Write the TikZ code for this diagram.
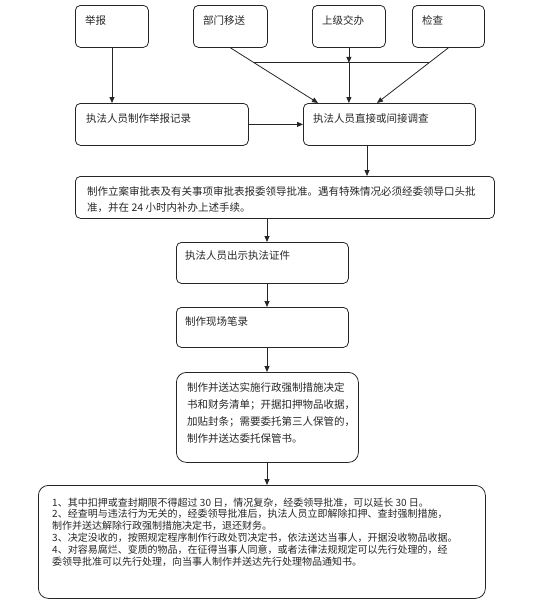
\documentclass[tikz,border=0pt]{standalone}
\usepackage{fontspec}
\newfontfamily\cjk{Noto Sans CJK SC}
\usetikzlibrary{arrows.meta,calc}
\begin{document}
\begin{tikzpicture}[x=1pt,y=-1pt,
  box/.style={draw=black!85, line width=0.8pt, rounded corners=5pt, anchor=north west, inner sep=0pt},
  bigbox/.style={box, rounded corners=10pt},
  txt/.style={anchor=base west, inner sep=0pt, align=left, font=\cjk\fontsize{10.5}{16}\selectfont, text=black!85},
  arr/.style={draw=black!85, line width=0.8pt, -{Triangle[length=6pt,width=5pt]}},
  ln/.style={draw=black!85, line width=0.8pt}]
\useasboundingbox (0,0) rectangle (552,603);

% top row
\node[box, minimum width=73pt, minimum height=42pt] (jb) at (75,5) {};
\node[txt] (tjb) at (85,24) {举报};
\node[box, minimum width=74pt, minimum height=42pt] (bm) at (193,5) {};
\node[txt] (tbm) at (203,24) {部门移送};
\node[box, minimum width=73pt, minimum height=42pt] (sj) at (312,5) {};
\node[txt] (tsj) at (322,24) {上级交办};
\node[box, minimum width=72pt, minimum height=42pt] (jc) at (412,5) {};
\node[txt] (tjc) at (422,24) {检查};

% second row
\node[box, minimum width=173pt, minimum height=42pt] (jl) at (75,103) {};
\node[txt] (tjl) at (86,122) {执法人员制作举报记录};
\node[box, minimum width=172pt, minimum height=42pt] (dc) at (303,103) {};
\node[txt] (tdc) at (313,122) {执法人员直接或间接调查};

% third
\node[box, minimum width=419pt, minimum height=42pt] (la) at (75,176) {};
\node[txt] (tla) at (87,211) {制作立案审批表及有关事项审批表报委领导批准。遇有特殊情况必须经委领导口头批\\准，并在 24 小时内补办上述手续。};

\node[box, minimum width=172pt, minimum height=41pt] (cs) at (176,242) {};
\node[txt] (tcs) at (185,259) {执法人员出示执法证件};

\node[box, minimum width=172pt, minimum height=40pt] (bl) at (176,307) {};
\node[txt] (tbl) at (185,325) {制作现场笔录};

\node[bigbox, minimum width=182pt, minimum height=90pt] (qz) at (176,372) {};
\node[txt, font=\cjk\fontsize{10.5}{17}\selectfont] (tqz) at (187,442) {制作并送达实施行政强制措施决定\\书和财务清单；开据扣押物品收据，\\加贴封条；需要委托第三人保管的，\\制作并送达委托保管书。};

\node[bigbox, minimum width=447pt, minimum height=113pt] (sm) at (38,485) {};
\node[txt, font=\cjk\fontsize{10}{11.9}\selectfont] (tsm) at (52,565.5) {1、其中扣押或查封期限不得超过 30 日，情况复杂，经委领导批准，可以延长 30 日。\\2、经查明与违法行为无关的，经委领导批准后，执法人员立即解除扣押、查封强制措施，\\制作并送达解除行政强制措施决定书，退还财务。\\3、决定没收的，按照规定程序制作行政处罚决定书，依法送达当事人，开据没收物品收据。\\4、对容易腐烂、变质的物品，在征得当事人同意，或者法律法规规定可以先行处理的，经\\委领导批准可以先行处理，向当事人制作并送达先行处理物品通知书。};

% connectors
\coordinate (jbx) at ($(jb.south west)+(37,0)$);
\draw[arr] (jbx) -- (jbx |- jl.north);
\coordinate (dcA) at ($(dc.north west)+(15,0)$);
\coordinate (dcC) at ($(dc.north west)+(74,0)$);
\coordinate (hj) at ($(sj.south)+(0,15)$);
\draw[arr] (bm.south) -- (dcA);
\draw[arr] (jc.south) -- (dcC);
\draw[arr] (sj.south) -- (hj);
\draw[arr] (hj) -- (hj |- dc.north);
\draw[ln] ($(bm.south)!15/56!(dcA)$) -- ($(jc.south)!15/56!(dcC)$);
\draw[arr] (jl.east) -- (jl.east -| dc.west);
\coordinate (dcx) at ($(dc.south west)+(64,0)$);
\draw[arr] (dcx) -- (dcx |- la.north);
\coordinate (lax) at ($(la.south west)+(192,0)$);
\draw[arr] (lax) -- (lax |- cs.north);
\draw[arr] (lax |- cs.south) -- (lax |- bl.north);
\draw[arr] (lax |- bl.south) -- (lax |- qz.north);
\draw[arr] (lax |- qz.south) -- (lax |- sm.north);
\end{tikzpicture}
\end{document}
